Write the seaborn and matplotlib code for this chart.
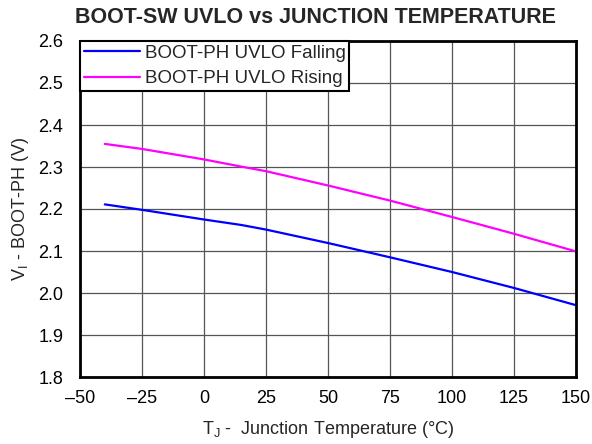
import pandas as pd
import seaborn as sns
import matplotlib.pyplot as plt

# Values
temps = [-40, -25, 0, 15, 25, 50, 75, 100, 125, 150]
falling = [2.211, 2.198, 2.175, 2.162, 2.151, 2.119, 2.085, 2.050, 2.012, 1.971]
rising = [2.355, 2.343, 2.318, 2.301, 2.290, 2.256, 2.220, 2.181, 2.141, 2.099]

x_ticks = [-50, -25, 0, 25, 50, 75, 100, 125, 150]
x_tick_labels = ['\u201350', '\u201325', '0', '25', '50', '75', '100', '125', '150']
y_ticks = [1.8, 1.9, 2.0, 2.1, 2.2, 2.3, 2.4, 2.5, 2.6]

df = pd.DataFrame({
    'Temp': temps * 2,
    'Voltage': falling + rising,
    'Series': ['BOOT-PH UVLO Falling'] * len(temps) + ['BOOT-PH UVLO Rising'] * len(temps),
})

sns.set_style('white')
plt.rcParams['font.family'] = ['Liberation Sans', 'DejaVu Sans']

fig = plt.figure(figsize=(5.92, 4.44), dpi=100)
ax = fig.add_axes([80 / 592, 67 / 444, 496 / 592, 336 / 444])

sns.lineplot(data=df, x='Temp', y='Voltage', hue='Series',
             palette={'BOOT-PH UVLO Falling': '#0000ff', 'BOOT-PH UVLO Rising': '#ff00ff'},
             linewidth=1.6, ax=ax)

ax.set_xlim(-50, 150)
ax.set_ylim(1.8, 2.6)
ax.set_xticks(x_ticks)
ax.set_xticklabels(x_tick_labels)
ax.set_yticks(y_ticks)
ax.set_yticklabels([f'{v:.1f}' for v in y_ticks])
ax.tick_params(axis='both', labelsize=13, length=0, colors='black')
ax.tick_params(axis='y', pad=12)
ax.tick_params(axis='x', pad=9)
ax.grid(True, color='#555555', linewidth=0.9)
ax.set_axisbelow(True)
for spine in ax.spines.values():
    spine.set_color('black')
    spine.set_linewidth(2)

ax.set_xlabel('T$_\\mathregular{J}$ -  Junction Temperature (\u00b0C)', fontsize=13, labelpad=9)
ax.set_ylabel('V$_\\mathregular{I}$ - BOOT-PH (V)', fontsize=13, labelpad=5)
fig.text(0.533, 0.961, 'BOOT-SW UVLO vs JUNCTION TEMPERATURE', ha='center', va='center',
         fontsize=15.5, fontweight='bold')

leg = ax.legend(loc='upper left', fontsize=13.5, frameon=True, fancybox=False,
                borderaxespad=0, handlelength=3.0, handletextpad=0.25, borderpad=0.2,
                labelspacing=0.45, framealpha=1)
leg.get_frame().set_edgecolor('black')
leg.get_frame().set_linewidth(1.5)
for line in leg.get_lines():
    line.set_linewidth(1.6)

plt.savefig('out.png', dpi=100)
